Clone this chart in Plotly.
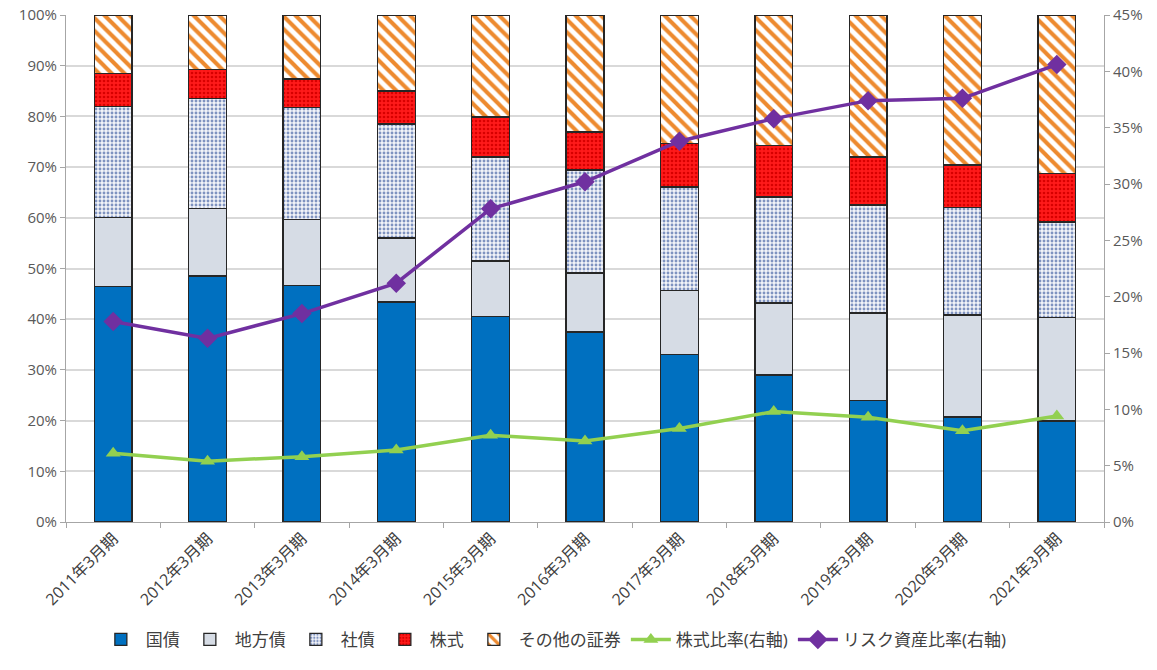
import plotly.graph_objects as go

categories = ["2011年3月期", "2012年3月期", "2013年3月期", "2014年3月期", "2015年3月期",
              "2016年3月期", "2017年3月期", "2018年3月期", "2019年3月期", "2020年3月期", "2021年3月期"]

kokusai = [46.4, 48.5, 46.7, 43.4, 40.6, 37.5, 33.1, 29.0, 23.9, 20.7, 19.9]
chihousai = [13.6, 13.4, 12.9, 12.6, 10.9, 11.6, 12.5, 14.2, 17.3, 20.1, 20.5]
shasai = [22.0, 21.7, 22.1, 22.5, 20.5, 20.3, 20.5, 20.9, 21.3, 21.3, 18.8]
kabushiki = [6.4, 5.6, 5.7, 6.5, 7.9, 7.5, 8.5, 10.2, 9.5, 8.3, 9.6]
sonota = [11.6, 10.8, 12.6, 15.0, 20.1, 23.1, 25.4, 25.7, 28.0, 29.6, 31.2]

kabu_ratio = [6.1, 5.4, 5.8, 6.4, 7.7, 7.2, 8.3, 9.8, 9.3, 8.1, 9.4]
risk_ratio = [17.8, 16.3, 18.5, 21.2, 27.8, 30.2, 33.8, 35.8, 37.4, 37.6, 40.6]

left_ticks = [0, 10, 20, 30, 40, 50, 60, 70, 80, 90, 100]
right_ticks = [0, 5, 10, 15, 20, 25, 30, 35, 40, 45]

FONT = "Open Sans, Noto Sans CJK JP, sans-serif"
outline = dict(color="#262626", width=1.3)

fig = go.Figure()
fig.add_trace(go.Bar(name="国債", x=categories, y=kokusai,
                     marker=dict(color="#0070c0", line=outline)))
fig.add_trace(go.Bar(name="地方債", x=categories, y=chihousai,
                     marker=dict(color="#d6dce5", line=outline)))
fig.add_trace(go.Bar(name="社債", x=categories, y=shasai,
                     marker=dict(color="#f2f4f9", line=outline,
                                 pattern=dict(shape=".", fgcolor="#7f93c0", bgcolor="#f2f4f9",
                                              size=4, solidity=0.4, fillmode="replace"))))
fig.add_trace(go.Bar(name="株式", x=categories, y=kabushiki,
                     marker=dict(color="#ff0000", line=outline,
                                 pattern=dict(shape=".", fgcolor="#d80000", bgcolor="#ff1a1a",
                                              size=4, solidity=0.35, fillmode="replace"))))
fig.add_trace(go.Bar(name="その他の証券", x=categories, y=sonota,
                     marker=dict(color="#ffffff", line=outline,
                                 pattern=dict(shape="\\", fgcolor="#ed8a2f", bgcolor="#ffffff",
                                              size=9, solidity=0.45, fillmode="replace"))))
fig.add_trace(go.Scatter(name="株式比率(右軸)", x=categories, y=kabu_ratio, yaxis="y2",
                         mode="lines+markers",
                         line=dict(color="#92d050", width=3.5),
                         marker=dict(symbol="triangle-up", size=13, color="#92d050")))
fig.add_trace(go.Scatter(name="リスク資産比率(右軸)", x=categories, y=risk_ratio, yaxis="y2",
                         mode="lines+markers",
                         line=dict(color="#7030a0", width=3.5),
                         marker=dict(symbol="diamond", size=15, color="#7030a0")))

fig.update_layout(
    width=1157, height=670,
    barmode="stack", bargap=0.6,
    plot_bgcolor="white", paper_bgcolor="white",
    margin=dict(l=66, r=53, t=15, b=148),
    font=dict(family=FONT, size=15, color="#404040"),
    xaxis=dict(type="category", range=[-0.5, len(categories) - 0.5], tickangle=-45,
               showgrid=False, automargin=False,
               showline=True, linecolor="#a6a6a6", linewidth=1,
               ticks="outside", tickson="boundaries", ticklen=5, tickcolor="#a6a6a6",
               tickfont=dict(size=16, color="#404040")),
    yaxis=dict(range=[0, 100], tickvals=left_ticks, ticktext=[f"{v}%" for v in left_ticks],
               showgrid=True, gridcolor="#d9d9d9", gridwidth=1.5, automargin=False,
               showline=True, linecolor="#a6a6a6", ticks="outside", ticklen=5, tickcolor="#a6a6a6",
               zeroline=False, tickfont=dict(size=15, color="#595959")),
    yaxis2=dict(range=[0, 45], tickvals=right_ticks, ticktext=[f"{v}%" for v in right_ticks],
                overlaying="y", side="right", showgrid=False, automargin=False,
                showline=True, linecolor="#a6a6a6", ticks="outside", ticklen=5, tickcolor="#a6a6a6",
                zeroline=False, tickfont=dict(size=15, color="#595959")),
    legend=dict(orientation="h", x=0.47, xanchor="center", y=-0.268, yanchor="bottom",
                font=dict(size=17, color="#404040"), traceorder="normal",
                itemwidth=40, tracegroupgap=0),
)

fig.write_html("out.html")
